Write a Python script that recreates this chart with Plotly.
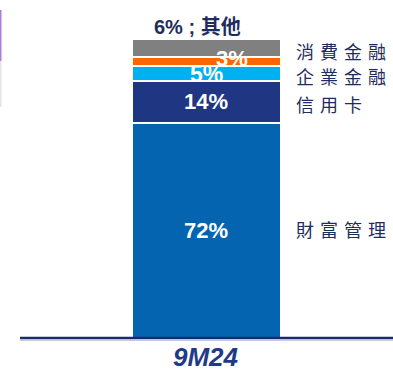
import plotly.graph_objects as go

# Segment data, stacked bottom to top
period = ["9M24"]
segments = ["財富管理", "信用卡", "企業金融", "消費金融", "其他"]
shares = [72, 14, 5, 3, 6]
colors = ["#0464b0", "#1f3682", "#00b0f0", "#ff6600", "#808080"]

fig = go.Figure()
for name, val, col in zip(segments, shares, colors):
    fig.add_trace(go.Bar(
        x=period, y=[val], name=name, width=1,
        marker=dict(color=col, line=dict(color="white", width=2)),
        hoverinfo="skip",
    ))

# cumulative bounds of each segment
bottoms = []
acc = 0
for v in shares:
    bottoms.append(acc)
    acc += v
centers = [b + v / 2 for b, v in zip(bottoms, shares)]
total = acc

LATIN = "Liberation Sans, Arial, Noto Sans CJK TC"
CJK = "Noto Sans CJK TC"
NAVY_TXT = "#1f2d5e"

annotations = []
# value labels inside the bar
inside_shift = {0: (0, 0), 1: (0, 0), 2: (0, -1), 3: (26, 3)}
inside_size = {0: 22, 1: 22, 2: 23, 3: 22}
for i in range(4):
    dx, dy = inside_shift[i]
    annotations.append(dict(
        x=period[0], y=centers[i], xref="x", yref="y",
        text=f"<b>{shares[i]}%</b>", showarrow=False,
        font=dict(family=LATIN, size=inside_size[i], color="white"),
        xshift=dx, yshift=dy,
    ))
# label for the top segment, above the bar
annotations.append(dict(
    x=period[0], y=total, xref="x", yref="y",
    text=f"<b>{shares[4]}% ; {segments[4]}</b>", showarrow=False,
    font=dict(family=LATIN, size=20, color=NAVY_TXT),
    yanchor="bottom", xshift=-9, yshift=-1,
))
# segment names to the right of the bar, letter-spaced
name_shift = {0: 1, 1: -2, 2: -3, 3: 10}
for i in range(4):
    annotations.append(dict(
        x=294 / 393, y=centers[i], xref="paper", yref="y",
        text="\u2004".join(segments[i]), showarrow=False,
        xanchor="left",
        font=dict(family=CJK, size=18, color=NAVY_TXT),
        yshift=name_shift[i],
    ))
# period label under the baseline
annotations.append(dict(
    x=period[0], y=0, xref="x", yref="paper",
    text=f"<b><i>{period[0]}</i></b>", showarrow=False,
    yanchor="top", yshift=-2,
    font=dict(family=LATIN, size=26, color="#1f3a8a"),
))

shapes = [
    # baseline
    dict(type="line", xref="paper", yref="paper", x0=20 / 393, x1=1, y0=0, y1=0,
         line=dict(color="#1b2a6b", width=2.5)),
    dict(type="line", xref="paper", yref="paper", x0=20 / 393, x1=1,
         y0=-2.2 / 338, y1=-2.2 / 338, line=dict(color="#aab4d0", width=1)),
    # accent rule at the left edge
    dict(type="line", xref="paper", yref="paper", x0=0.5 / 393, x1=0.5 / 393,
         y0=1 - 10 / 338, y1=1 - 61 / 338, line=dict(color="#ad80d8", width=2)),
    dict(type="line", xref="paper", yref="paper", x0=0.5 / 393, x1=0.5 / 393,
         y0=1 - 61 / 338, y1=1 - 107 / 338, line=dict(color="#e4e4e4", width=2)),
]

fig.update_layout(
    width=393, height=373,
    margin=dict(l=0, r=0, t=0, b=35),
    barmode="stack", bargap=0,
    showlegend=False,
    plot_bgcolor="white", paper_bgcolor="white",
    xaxis=dict(range=[-206 / 149, (393 - 206) / 149], visible=False, fixedrange=True),
    yaxis=dict(range=[0, total * 338 / 299], visible=False, fixedrange=True),
    annotations=annotations,
    shapes=shapes,
)

fig.write_html("out.html")
